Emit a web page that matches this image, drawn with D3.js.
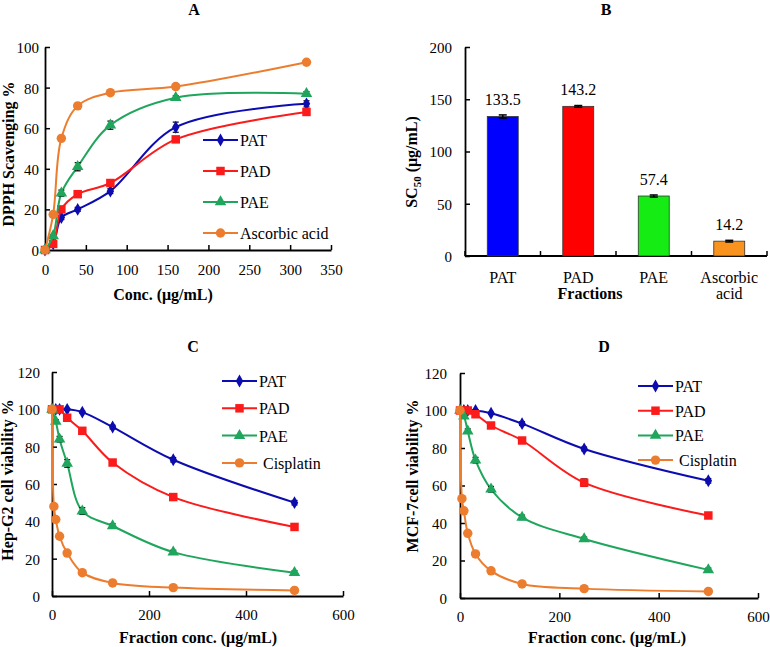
<!DOCTYPE html>
<html><head><meta charset="utf-8">
<script src="https://cdn.jsdelivr.net/npm/d3@7/dist/d3.min.js"></script>
<style>
html,body{margin:0;padding:0;background:#fff;}
svg{display:block;}
</style></head>
<body>
<svg id="chart" width="770" height="647" font-family="Liberation Serif"></svg>
<script>
// ---------- DATA ----------
// Panel A: DPPH scavenging
const concA = [0, 10, 20, 40, 80, 160, 320];
const patA  = [0, 3, 16, 20, 29, 60.5, 72];
const padA  = [0, 3, 20, 27.5, 33, 54.5, 68];
const paeA  = [0, 7, 28, 41, 61.5, 75, 77];
const ascA  = [0, 17.5, 55, 71, 77.5, 80.5, 92.5];
const patAErr = [0, 0.5, 1, 1, 1.2, 2.5, 1.5];
const padAErr = [0, 0.5, 0.5, 0.5, 0.5, 0.5, 1];
const paeAErr = [0, 0.5, 1.5, 2, 2, 1, 1];
const ascAErr = [0, 0.5, 0.5, 0.5, 0.5, 0.5, 0.5];

// Panel B: SC50
const fractionsB = ["PAT", "PAD", "PAE", "Ascorbic acid"];
const sc50 = [133.5, 143.2, 57.4, 14.2];
const sc50Err = [1.5, 0.8, 1.0, 0.8];

// Panels C & D: cell viability
const concCD  = [0, 7.8, 15.6, 31.25, 62.5, 125, 250, 500];
const concCis = [0, 3.9, 7.8, 15.6, 31.25, 62.5, 125, 250, 500];
const patC = [100, 100, 100, 100, 98.5, 90.5, 73, 50];
const padC = [100, 100, 100, 95.5, 88.5, 71.5, 53, 37];
const paeC = [100, 93.5, 84, 71, 45.5, 37.5, 23.5, 12.5];
const cisC = [100, 48, 41, 32, 23, 12.5, 7, 4.5, 3];
const patCErr = [0, 0, 0, 0.5, 0.5, 1, 1.2, 1.2];
const padCErr = [0, 0, 0, 0.5, 0.5, 1, 1, 1];
const paeCErr = [0, 1, 1.5, 2, 1.8, 1.2, 1, 1];
const cisCErr = [0, 0.5, 0.5, 0.5, 0.5, 0.5, 0.5, 0.5, 0.5];

const patD = [100, 100, 100, 100, 98.5, 93, 79.5, 62.5];
const padD = [100, 100, 100, 98, 92, 84, 61.5, 44];
const paeD = [100, 97, 89, 73.5, 58, 43, 31.5, 15];
const cisD = [100, 53, 46.5, 34.5, 23.5, 14.5, 7.5, 5, 3.5];
const patDErr = [0, 0, 0, 0.5, 0.5, 1, 1, 1.2];
const padDErr = [0, 0, 0, 0.5, 0.5, 1, 2, 1];
const paeDErr = [0, 1, 1.2, 1.5, 1.5, 1.2, 1, 1];
const cisDErr = [0, 0.5, 1, 0.5, 0.5, 0.5, 0.5, 0.5, 0.5];

const seriesNamesA = ["PAT", "PAD", "PAE", "Ascorbic acid"];
const seriesNamesCD = ["PAT", "PAD", "PAE", " Cisplatin"];
const ticksA_x = [0, 50, 100, 150, 200, 250, 300, 350];
const ticksA_y = [0, 20, 40, 60, 80, 100];
const ticksB_y = [0, 50, 100, 150, 200];
const ticksCD_x = [0, 200, 400, 600];
const ticksCD_y = [0, 20, 40, 60, 80, 100, 120];

// ---------- STYLE ----------
const COL = {PAT: "#0c0cb0", PAD: "#fb1b1b", PAE: "#1fa65c", ORG: "#ec7d2f"};
const barColors = ["#0000ff", "#ff0000", "#14ec14", "#f7931e"];
const svg = d3.select("#chart");
const FONT = "Liberation Serif";

function symbolFor(kind) {
  if (kind === "diamond") return d3.symbol().type(d3.symbolDiamond).size(48)();
  if (kind === "square") return d3.symbol().type(d3.symbolSquare).size(72)();
  if (kind === "triangle") return d3.symbol().type(d3.symbolTriangle).size(58)();
  return d3.symbol().type(d3.symbolCircle).size(70)();
}

function styleAxis(g, fs) {
  g.attr("font-family", FONT).attr("font-size", fs);
  g.selectAll(".domain").attr("stroke", "#000").attr("stroke-width", 1.8);
  g.selectAll(".tick line").attr("stroke", "#000").attr("stroke-width", 1.5);
  g.selectAll("text").attr("font-family", FONT).attr("font-size", fs).attr("fill", "#000");
}

function txt(g) {
  return g.append("text").attr("font-family", FONT).attr("fill", "#000");
}

function linePanel(opt) {
  const g = svg.append("g");
  const x = d3.scaleLinear().domain(opt.xDomain).range(opt.xRange);
  const y = d3.scaleLinear().domain(opt.yDomain).range(opt.yRange);
  const xa = g.append("g").attr("transform", `translate(0,${opt.yRange[0]})`)
    .call(d3.axisBottom(x).tickValues(opt.xTicks).tickSizeInner(-5).tickSizeOuter(0).tickPadding(opt.xPad).tickFormat(d3.format("d")));
  styleAxis(xa, 15);
  const ya = g.append("g").attr("transform", `translate(${opt.xRange[0]},0)`)
    .call(d3.axisLeft(y).tickValues(opt.yTicks).tickSizeInner(-5).tickSizeOuter(0).tickPadding(opt.yPad).tickFormat(d3.format("d")));
  styleAxis(ya, 15);
  ya.selectAll(".tick text").attr("dy", "0.36em");

  const line = d3.line().x(d => x(d[0])).y(d => y(d[1])).curve(d3.curveCatmullRom.alpha(0.5));
  opt.series.forEach(s => {
    const pts = s.xs.map((xv, i) => [xv, s.ys[i], s.err[i]]);
    g.append("path").datum(pts).attr("d", line).attr("fill", "none")
      .attr("stroke", s.color).attr("stroke-width", 2);
    pts.forEach(p => {
      if (p[2] > 0) {
        const cx = x(p[0]), y1 = y(p[1] + p[2]), y2 = y(p[1] - p[2]);
        g.append("line").attr("x1", cx).attr("x2", cx).attr("y1", y1).attr("y2", y2).attr("stroke", "#000").attr("stroke-width", 1.2);
        g.append("line").attr("x1", cx - 3).attr("x2", cx + 3).attr("y1", y1).attr("y2", y1).attr("stroke", "#000").attr("stroke-width", 1.2);
        g.append("line").attr("x1", cx - 3).attr("x2", cx + 3).attr("y1", y2).attr("y2", y2).attr("stroke", "#000").attr("stroke-width", 1.2);
      }
    });
    g.selectAll(null).data(pts).enter().append("path")
      .attr("d", symbolFor(s.marker))
      .attr("transform", d => `translate(${x(d[0])},${y(d[1])})`)
      .attr("fill", s.color);
  });

  opt.series.forEach((s, i) => {
    const ly = opt.legend.y + i * opt.legend.dy;
    g.append("line").attr("x1", opt.legend.x).attr("x2", opt.legend.x + 35)
      .attr("y1", ly).attr("y2", ly).attr("stroke", s.color).attr("stroke-width", 2);
    g.append("path").attr("d", symbolFor(s.marker)).attr("transform", `translate(${opt.legend.x + 17.5},${ly})`).attr("fill", s.color);
    txt(g).attr("x", opt.legend.x + 37).attr("y", ly + 6).attr("font-size", 16)
      .attr("xml:space", "preserve").style("white-space", "pre").text(s.name);
  });

  txt(g).attr("x", opt.title.x).attr("y", opt.title.y).attr("text-anchor", "middle")
    .attr("font-weight", "bold").attr("font-size", 16).text(opt.title.t);
  txt(g).attr("x", opt.xlab.x).attr("y", opt.xlab.y).attr("text-anchor", "middle")
    .attr("font-weight", "bold").attr("font-size", 16).text(opt.xlab.t);
  txt(g).attr("transform", `translate(${opt.ylab.x},${opt.ylab.y}) rotate(-90)`).attr("text-anchor", "middle")
    .attr("font-weight", "bold").attr("font-size", 16).text(opt.ylab.t);
}

// ---------- PANEL A ----------
linePanel({
  xDomain: [0, 350], xRange: [45, 331], yDomain: [0, 100], yRange: [250, 47],
  xTicks: ticksA_x, yTicks: ticksA_y, xPad: 14, yPad: 6,
  series: [
    {name: seriesNamesA[0], xs: concA, ys: patA, err: patAErr, color: COL.PAT, marker: "diamond"},
    {name: seriesNamesA[1], xs: concA, ys: padA, err: padAErr, color: COL.PAD, marker: "square"},
    {name: seriesNamesA[2], xs: concA, ys: paeA, err: paeAErr, color: COL.PAE, marker: "triangle"},
    {name: seriesNamesA[3], xs: concA, ys: ascA, err: ascAErr, color: COL.ORG, marker: "circle"}
  ],
  legend: {x: 203, y: 140, dy: 31},
  title: {x: 194, y: 15, t: "A"},
  xlab: {x: 163, y: 300, t: "Conc. (μg/mL)"},
  ylab: {x: 14, y: 154, t: "DPPH Scavenging %"}
});

// ---------- PANEL B ----------
(function () {
  const g = svg.append("g");
  const x = d3.scaleBand().domain(fractionsB).range([465, 767]).paddingInner(0.59).paddingOuter(0.295);
  const y = d3.scaleLinear().domain([0, 200]).range([256, 47]);
  const ya = g.append("g").attr("transform", "translate(465,0)")
    .call(d3.axisLeft(y).tickValues(ticksB_y).tickSizeInner(-5).tickSizeOuter(0).tickPadding(13));
  styleAxis(ya, 15);
  ya.selectAll(".tick text").attr("dy", "0.36em");
  g.append("line").attr("x1", 465).attr("x2", 767).attr("y1", 256).attr("y2", 256).attr("stroke", "#000").attr("stroke-width", 1.8);
  d3.range(0, fractionsB.length + 1).forEach(k => {
    const bx = 465 + k * x.step();
    g.append("line").attr("x1", bx).attr("x2", bx).attr("y1", 256).attr("y2", 251).attr("stroke", "#000").attr("stroke-width", 1.5);
  });
  fractionsB.forEach((f, i) => {
    const bx = x(f), bw = x.bandwidth();
    g.append("rect").attr("x", bx).attr("y", y(sc50[i])).attr("width", bw).attr("height", y(0) - y(sc50[i]))
      .attr("fill", barColors[i]).attr("stroke", "#333").attr("stroke-width", 0.8);
    const cx = bx + bw / 2, y1 = y(sc50[i] + sc50Err[i]), y2 = y(sc50[i] - sc50Err[i]);
    g.append("line").attr("x1", cx).attr("x2", cx).attr("y1", y1).attr("y2", y2).attr("stroke", "#000").attr("stroke-width", 1.5);
    g.append("line").attr("x1", cx - 4).attr("x2", cx + 4).attr("y1", y1).attr("y2", y1).attr("stroke", "#000").attr("stroke-width", 1.5);
    g.append("line").attr("x1", cx - 4).attr("x2", cx + 4).attr("y1", y2).attr("y2", y2).attr("stroke", "#000").attr("stroke-width", 1.5);
    txt(g).attr("x", cx).attr("y", y(sc50[i]) - 11).attr("text-anchor", "middle").attr("font-size", 16).text(d3.format(".1f")(sc50[i]));
    const words = f.split(" ");
    const t = txt(g).attr("text-anchor", "middle").attr("font-size", 16);
    words.forEach((w, j) => t.append("tspan").attr("x", cx).attr("y", 283 + j * 16).text(w));
  });
  txt(g).attr("x", 606).attr("y", 15).attr("text-anchor", "middle").attr("font-weight", "bold").attr("font-size", 16).text("B");
  txt(g).attr("x", 590).attr("y", 299).attr("text-anchor", "middle").attr("font-weight", "bold").attr("font-size", 16).text("Fractions");
  const yl = txt(g).attr("transform", "translate(417,162) rotate(-90)").attr("text-anchor", "middle")
    .attr("font-weight", "bold").attr("font-size", 16);
  yl.append("tspan").text("SC");
  yl.append("tspan").attr("font-size", 11).attr("dy", 4).text("50");
  yl.append("tspan").attr("dy", -4).text(" (μg/mL)");
})();

// ---------- PANEL C ----------
linePanel({
  xDomain: [0, 600], xRange: [52, 343], yDomain: [0, 120], yRange: [596, 372],
  xTicks: ticksCD_x, yTicks: ticksCD_y, xPad: 13, yPad: 12,
  series: [
    {name: seriesNamesCD[0], xs: concCD, ys: patC, err: patCErr, color: COL.PAT, marker: "diamond"},
    {name: seriesNamesCD[1], xs: concCD, ys: padC, err: padCErr, color: COL.PAD, marker: "square"},
    {name: seriesNamesCD[2], xs: concCD, ys: paeC, err: paeCErr, color: COL.PAE, marker: "triangle"},
    {name: seriesNamesCD[3], xs: concCis, ys: cisC, err: cisCErr, color: COL.ORG, marker: "circle"}
  ],
  legend: {x: 222, y: 381, dy: 27.3},
  title: {x: 193, y: 352, t: "C"},
  xlab: {x: 198, y: 643, t: "Fraction conc. (μg/mL)"},
  ylab: {x: 13, y: 480, t: "Hep-G2 cell viability %"}
});

// ---------- PANEL D ----------
linePanel({
  xDomain: [0, 600], xRange: [460, 758], yDomain: [0, 120], yRange: [598, 373],
  xTicks: ticksCD_x, yTicks: ticksCD_y, xPad: 13, yPad: 13,
  series: [
    {name: seriesNamesCD[0], xs: concCD, ys: patD, err: patDErr, color: COL.PAT, marker: "diamond"},
    {name: seriesNamesCD[1], xs: concCD, ys: padD, err: padDErr, color: COL.PAD, marker: "square"},
    {name: seriesNamesCD[2], xs: concCD, ys: paeD, err: paeDErr, color: COL.PAE, marker: "triangle"},
    {name: seriesNamesCD[3], xs: concCis, ys: cisD, err: cisDErr, color: COL.ORG, marker: "circle"}
  ],
  legend: {x: 638, y: 386, dy: 24.7},
  title: {x: 604, y: 352, t: "D"},
  xlab: {x: 607, y: 643, t: "Fraction conc. (μg/mL)"},
  ylab: {x: 418, y: 476, t: "MCF-7cell viability %"}
});
</script>
</body></html>
